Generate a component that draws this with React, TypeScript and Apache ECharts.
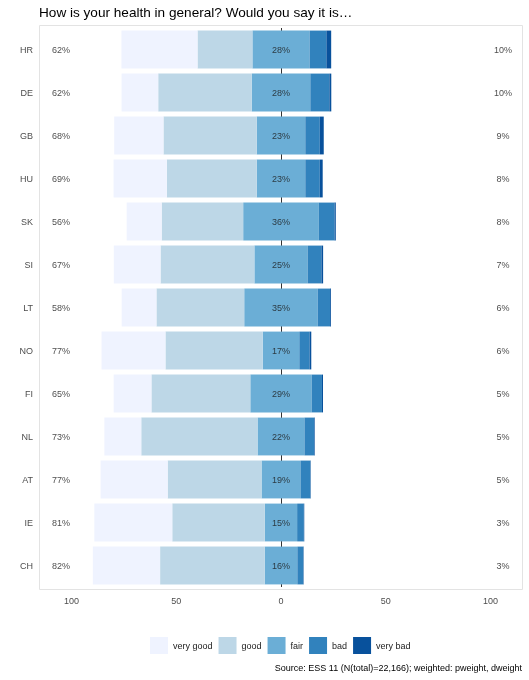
import React, { useEffect, useRef } from "react";
import * as echarts from "echarts";

const categories = ["HR", "DE", "GB", "HU", "SK", "SI", "LT", "NO", "FI", "NL", "AT", "IE", "CH"];
const veryGood = [36.3, 17.5, 23.5, 25.4, 16.7, 22.3, 16.6, 30.5, 18.0, 17.6, 32.0, 37.2, 32.1];
const good = [26.2, 44.6, 44.5, 42.9, 38.9, 44.8, 41.9, 46.4, 47.2, 55.5, 44.8, 44.2, 49.9];
const fair = [27.3, 28.0, 23.2, 23.2, 36.1, 25.4, 35.1, 17.5, 29.3, 22.4, 18.6, 15.4, 15.6];
const bad = [8.0, 9.1, 6.9, 6.9, 7.5, 6.6, 5.9, 4.9, 4.9, 4.6, 4.7, 3.2, 2.8];
const veryBad = [2.3, 0.9, 1.9, 1.4, 0.6, 0.8, 0.4, 0.8, 0.5, 0.3, 0.2, 0.2, 0.2];

const leftLabels = ["62%", "62%", "68%", "69%", "56%", "67%", "58%", "77%", "65%", "73%", "77%", "81%", "82%"];
const fairLabels = ["28%", "28%", "23%", "23%", "36%", "25%", "35%", "17%", "29%", "22%", "19%", "15%", "16%"];
const rightLabels = ["10%", "10%", "9%", "8%", "8%", "7%", "6%", "6%", "5%", "5%", "5%", "3%", "3%"];

const tickValues = [-100, -50, 0, 50, 100];
const legendNames = ["very good", "good", "fair", "bad", "very bad"];

const COLORS = {
  veryGood: "#eff3ff",
  good: "#bdd7e7",
  fair: "#6baed6",
  bad: "#3182bd",
  veryBad: "#08519c",
};

const FONT = "'Liberation Sans', Arial, Helvetica, sans-serif";

export default function App() {
  const ref = useRef<HTMLDivElement>(null);

  useEffect(() => {
    if (!ref.current) return;
    const chart = echarts.init(ref.current, undefined, { renderer: "svg" });

    const barBase = {
      type: "bar",
      stack: "total",
      barWidth: "88%",
      z: 3,
      emphasis: { disabled: true },
    };

    const labelSeries = (xVal: number, labels: string[], color: string) => ({
      type: "scatter",
      data: categories.map((_, i) => [xVal, i]),
      symbolSize: 1,
      itemStyle: { color: "rgba(0,0,0,0)" },
      z: 6,
      silent: true,
      label: {
        show: true,
        position: "inside",
        formatter: (p: any) => labels[p.dataIndex],
        color,
        fontSize: 9,
        fontFamily: FONT,
      },
    });

    const option: any = {
      animation: false,
      textStyle: { fontFamily: FONT },
      title: {
        text: "How is your health in general? Would you say it is…",
        left: 39,
        top: 5,
        padding: 0,
        textStyle: { fontSize: 13.6, fontWeight: "normal", color: "#000", fontFamily: FONT },
      },
      legend: {
        data: legendNames,
        left: 150,
        top: 637,
        padding: 0,
        icon: "rect",
        itemWidth: 18,
        itemHeight: 17,
        itemGap: 6,
        selectedMode: false,
        textStyle: { fontSize: 9, color: "#1a1a1a", fontFamily: FONT },
      },
      grid: { left: 39, right: 6, top: 28, bottom: 93, containLabel: false },
      xAxis: {
        type: "value",
        min: -115.5,
        max: 115.5,
        axisLine: { show: false },
        axisTick: { show: false },
        splitLine: { show: false },
        axisLabel: {
          customValues: tickValues,
          formatter: (v: number) => String(Math.abs(v)),
          fontSize: 9,
          color: "#4d4d4d",
          margin: 9,
          fontFamily: FONT,
        },
      },
      yAxis: {
        type: "category",
        data: categories,
        inverse: true,
        axisLine: { show: false },
        axisTick: { show: false },
        splitLine: { show: false },
        axisLabel: { fontSize: 9, color: "#4d4d4d", margin: 6, fontFamily: FONT },
      },
      graphic: [
        {
          type: "rect",
          shape: { x: 39.5, y: 25.5, width: 483, height: 564 },
          style: { fill: "none", stroke: "#e3e3e3", lineWidth: 1 },
          z: 0,
          silent: true,
        },
        {
          type: "text",
          x: 522,
          y: 668,
          style: {
            text: "Source: ESS 11 (N(total)=22,166); weighted: pweight, dweight",
            textAlign: "right",
            textVerticalAlign: "middle",
            fontSize: 9,
            fill: "#000",
            fontFamily: FONT,
          },
          silent: true,
        },
      ],
      series: [
        {
          type: "line",
          name: "zero",
          data: [],
          z: 1,
          silent: true,
          markLine: {
            z: 1,
            silent: true,
            symbol: ["none", "none"],
            label: { show: false },
            lineStyle: { color: "#333333", width: 1, type: "solid" },
            data: [{ xAxis: 0 }],
          },
        },
        { ...barBase, name: "fair", data: fair.map((v) => -v / 2), itemStyle: { color: COLORS.fair } },
        { ...barBase, name: "good", data: good.map((v) => -v), itemStyle: { color: COLORS.good } },
        { ...barBase, name: "very good", data: veryGood.map((v) => -v), itemStyle: { color: COLORS.veryGood } },
        { ...barBase, name: "fair", data: fair.map((v) => v / 2), itemStyle: { color: COLORS.fair } },
        { ...barBase, name: "bad", data: bad, itemStyle: { color: COLORS.bad } },
        { ...barBase, name: "very bad", data: veryBad, itemStyle: { color: COLORS.veryBad } },
        labelSeries(-105, leftLabels, "#1a1a1a"),
        labelSeries(0, fairLabels, "#1a1a1a"),
        labelSeries(106, rightLabels, "#1a1a1a"),
      ],
    };

    chart.setOption(option);
    return () => chart.dispose();
  }, []);

  return (
    <div
      ref={ref}
      style={{ position: "fixed", left: 0, top: 0, width: 529, height: 680 }}
    />
  );
}
